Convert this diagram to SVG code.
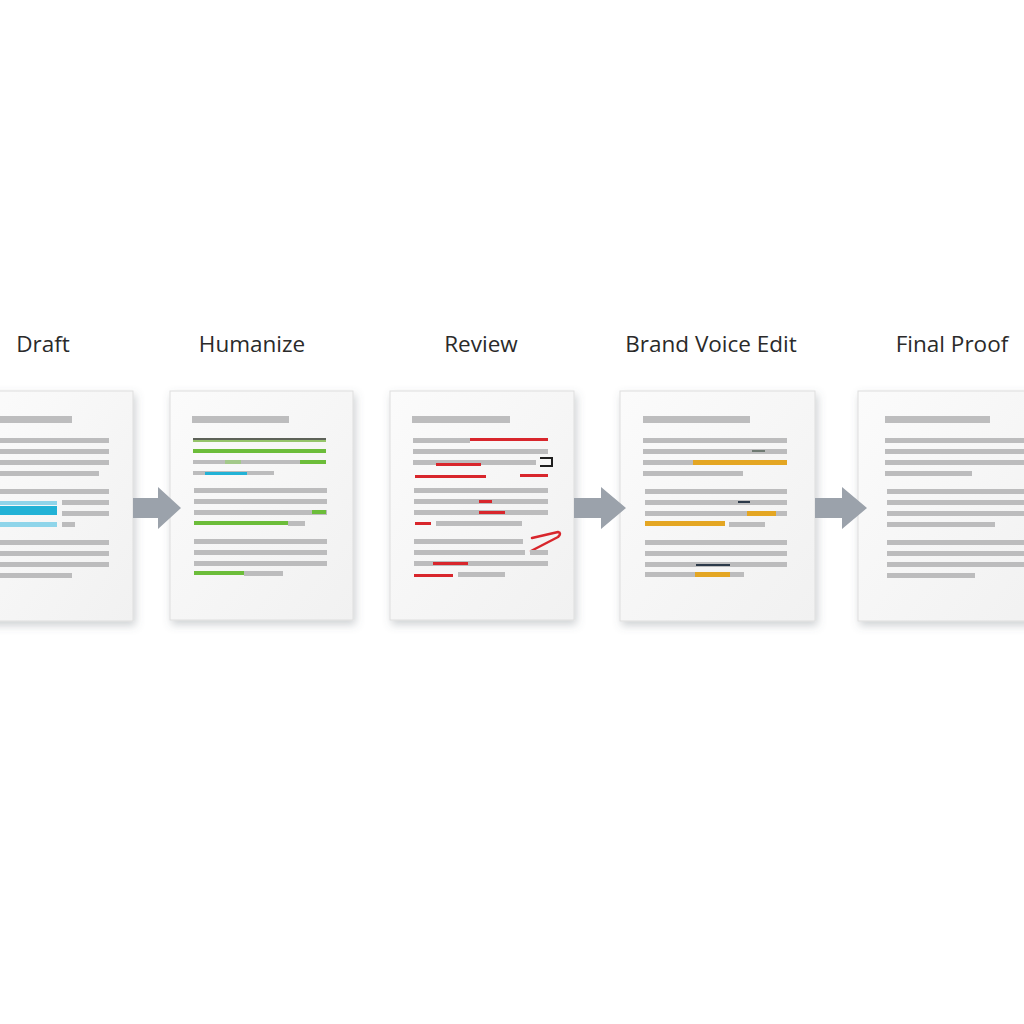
<svg xmlns="http://www.w3.org/2000/svg" width="1024" height="1024" viewBox="0 0 1024 1024">
<defs>
<linearGradient id="paper" x1="0" y1="0" x2="1" y2="1">
<stop offset="0" stop-color="#fbfbfb"/>
<stop offset="1" stop-color="#f1f1f1"/>
</linearGradient>
<filter id="sh" x="-20%" y="-20%" width="140%" height="140%">
<feDropShadow dx="2" dy="4" stdDeviation="4" flood-color="#5a6470" flood-opacity="0.3"/>
</filter>
</defs>
<style>
.doc{fill:url(#paper);stroke:#dedede;stroke-width:1;filter:url(#sh)}
.t{fill:#bdbdbe}
.l{fill:#bcbcbd}
.g{fill:#6cbd3a}
.c{fill:#22b2d6}
.lc{fill:#8fd5ea}
.r{fill:#d8262c}
.o{fill:#e4a623}
.n{fill:#2c3a4a}
.arr{fill:#9ba2ab}
.lab{font-family:"Open Sans","Noto Sans","Liberation Sans",sans-serif;font-size:22.5px;fill:#2a2a2a;text-anchor:middle}
</style>
<rect width="1024" height="1024" fill="#ffffff"/>

<g id="draft">
<text class="lab" x="43" y="352">Draft</text>
<rect class="doc" x="-20" y="391" width="153" height="230"/>
<rect class="t" x="-5" y="416" width="77" height="7"/>
<rect class="l" x="-5" y="438" width="114" height="5"/>
<rect class="l" x="-5" y="449" width="114" height="5"/>
<rect class="l" x="-5" y="460" width="114" height="5"/>
<rect class="l" x="-5" y="471" width="104" height="5"/>
<rect class="l" x="-5" y="489" width="114" height="5"/>
<rect class="lc" x="-5" y="501" width="62" height="4"/>
<rect class="c" x="-5" y="506" width="62" height="9"/>
<rect class="l" x="62" y="500" width="47" height="5"/>
<rect class="l" x="62" y="511" width="47" height="5"/>
<rect class="lc" x="-5" y="522" width="62" height="5"/>
<rect class="l" x="62" y="522" width="13" height="5"/>
<rect class="l" x="-5" y="540" width="114" height="5"/>
<rect class="l" x="-5" y="551" width="114" height="5"/>
<rect class="l" x="-5" y="562" width="114" height="5"/>
<rect class="l" x="-5" y="573" width="77" height="5"/>
</g>

<g id="humanize">
<text class="lab" x="252" y="352">Humanize</text>
<rect class="doc" x="170" y="391" width="183" height="229"/>
<rect class="t" x="192" y="416" width="97" height="7"/>
<rect x="193" y="438" width="133" height="2" fill="#5d6258"/>
<rect x="193" y="440" width="133" height="2" fill="#95c46a"/>
<rect class="g" x="193" y="449" width="133" height="4"/>
<rect class="l" x="193" y="460" width="133" height="4"/>
<rect x="225" y="460" width="16" height="4" fill="#a3c98a"/>
<rect class="g" x="300" y="460" width="26" height="4"/>
<rect class="l" x="193" y="471" width="81" height="4"/>
<rect class="c" x="205" y="472" width="42" height="3"/>
<rect class="l" x="194" y="488" width="133" height="5"/>
<rect class="l" x="194" y="499" width="133" height="5"/>
<rect class="l" x="194" y="510" width="133" height="5"/>
<rect class="g" x="312" y="510" width="14" height="4"/>
<rect class="l" x="288" y="521" width="17" height="5"/>
<rect class="g" x="194" y="521" width="94" height="4"/>
<rect class="l" x="194" y="539" width="133" height="5"/>
<rect class="l" x="194" y="550" width="133" height="5"/>
<rect class="l" x="194" y="561" width="133" height="5"/>
<rect class="l" x="244" y="571" width="39" height="5"/>
<rect class="g" x="194" y="571" width="50" height="4"/>
</g>

<g id="review">
<text class="lab" x="481" y="352">Review</text>
<rect class="doc" x="390" y="391" width="184" height="229"/>
<rect class="t" x="412" y="416" width="98" height="7"/>
<rect class="l" x="413" y="438" width="57" height="5"/>
<rect class="r" x="470" y="438" width="78" height="3"/>
<rect class="l" x="413" y="449" width="135" height="5"/>
<rect class="l" x="413" y="460" width="123" height="5"/>
<rect class="r" x="436" y="463" width="45" height="3"/>
<path d="M540,458 H552 V466 H540" fill="none" stroke="#1e1e1e" stroke-width="2"/>
<rect class="r" x="415" y="475" width="71" height="3"/>
<rect class="r" x="520" y="474" width="28" height="3"/>
<rect class="l" x="414" y="488" width="134" height="5"/>
<rect class="l" x="414" y="499" width="134" height="5"/>
<rect class="r" x="479" y="500" width="13" height="3"/>
<rect class="l" x="414" y="510" width="134" height="5"/>
<rect class="r" x="479" y="511" width="26" height="3"/>
<rect class="r" x="415" y="522" width="16" height="3"/>
<rect class="l" x="436" y="521" width="86" height="5"/>
<rect class="l" x="414" y="539" width="109" height="5"/>
<path d="M532,538 L558,532 Q562,533 558,537 L531,551" fill="none" stroke="#d8262c" stroke-width="2.5" stroke-linecap="round" stroke-linejoin="round"/>
<rect class="l" x="414" y="550" width="111" height="5"/>
<rect class="l" x="530" y="550" width="18" height="5"/>
<rect class="l" x="414" y="561" width="134" height="5"/>
<rect class="r" x="433" y="562" width="35" height="3"/>
<rect class="r" x="414" y="574" width="39" height="3"/>
<rect class="l" x="458" y="572" width="47" height="5"/>
</g>

<g id="brand-voice-edit">
<text class="lab" x="711" y="352">Brand Voice Edit</text>
<rect class="doc" x="620" y="391" width="195" height="230"/>
<rect class="t" x="643" y="416" width="107" height="7"/>
<rect class="l" x="643" y="438" width="144" height="5"/>
<rect class="l" x="643" y="449" width="144" height="5"/>
<rect x="752" y="450" width="13" height="2" fill="#6f7a72"/>
<rect class="l" x="643" y="460" width="50" height="5"/>
<rect class="o" x="693" y="460" width="94" height="5"/>
<rect class="l" x="643" y="471" width="100" height="5"/>
<rect class="l" x="645" y="489" width="142" height="5"/>
<rect class="l" x="645" y="500" width="142" height="5"/>
<rect class="n" x="738" y="501" width="12" height="2"/>
<rect class="l" x="645" y="511" width="142" height="5"/>
<rect class="o" x="747" y="511" width="29" height="5"/>
<rect class="o" x="645" y="521" width="80" height="5"/>
<rect class="l" x="729" y="522" width="36" height="5"/>
<rect class="l" x="645" y="540" width="142" height="5"/>
<rect class="l" x="645" y="551" width="142" height="5"/>
<rect class="l" x="645" y="562" width="142" height="5"/>
<rect class="n" x="696" y="564" width="34" height="2"/>
<rect class="l" x="645" y="572" width="99" height="5"/>
<rect class="o" x="695" y="572" width="35" height="5"/>
</g>

<g id="final-proof">
<text class="lab" x="952" y="352">Final Proof</text>
<rect class="doc" x="858" y="391" width="190" height="230"/>
<rect class="t" x="885" y="416" width="105" height="7"/>
<rect class="l" x="885" y="438" width="145" height="5"/>
<rect class="l" x="885" y="449" width="145" height="5"/>
<rect class="l" x="885" y="460" width="145" height="5"/>
<rect class="l" x="885" y="471" width="87" height="5"/>
<rect class="l" x="887" y="489" width="143" height="5"/>
<rect class="l" x="887" y="500" width="143" height="5"/>
<rect class="l" x="887" y="511" width="143" height="5"/>
<rect class="l" x="887" y="522" width="108" height="5"/>
<rect class="l" x="887" y="540" width="143" height="5"/>
<rect class="l" x="887" y="551" width="143" height="5"/>
<rect class="l" x="887" y="562" width="143" height="5"/>
<rect class="l" x="887" y="573" width="88" height="5"/>
</g>

<g id="connectors">
<polygon class="arr" points="133,498 158,498 158,487 181,508 158,529 158,518 133,518"/>
<polygon class="arr" points="574,498 601,498 601,487 626,508 601,529 601,518 574,518"/>
<polygon class="arr" points="815,498 842,498 842,487 867,508 842,529 842,518 815,518"/>
</g>
</svg>
